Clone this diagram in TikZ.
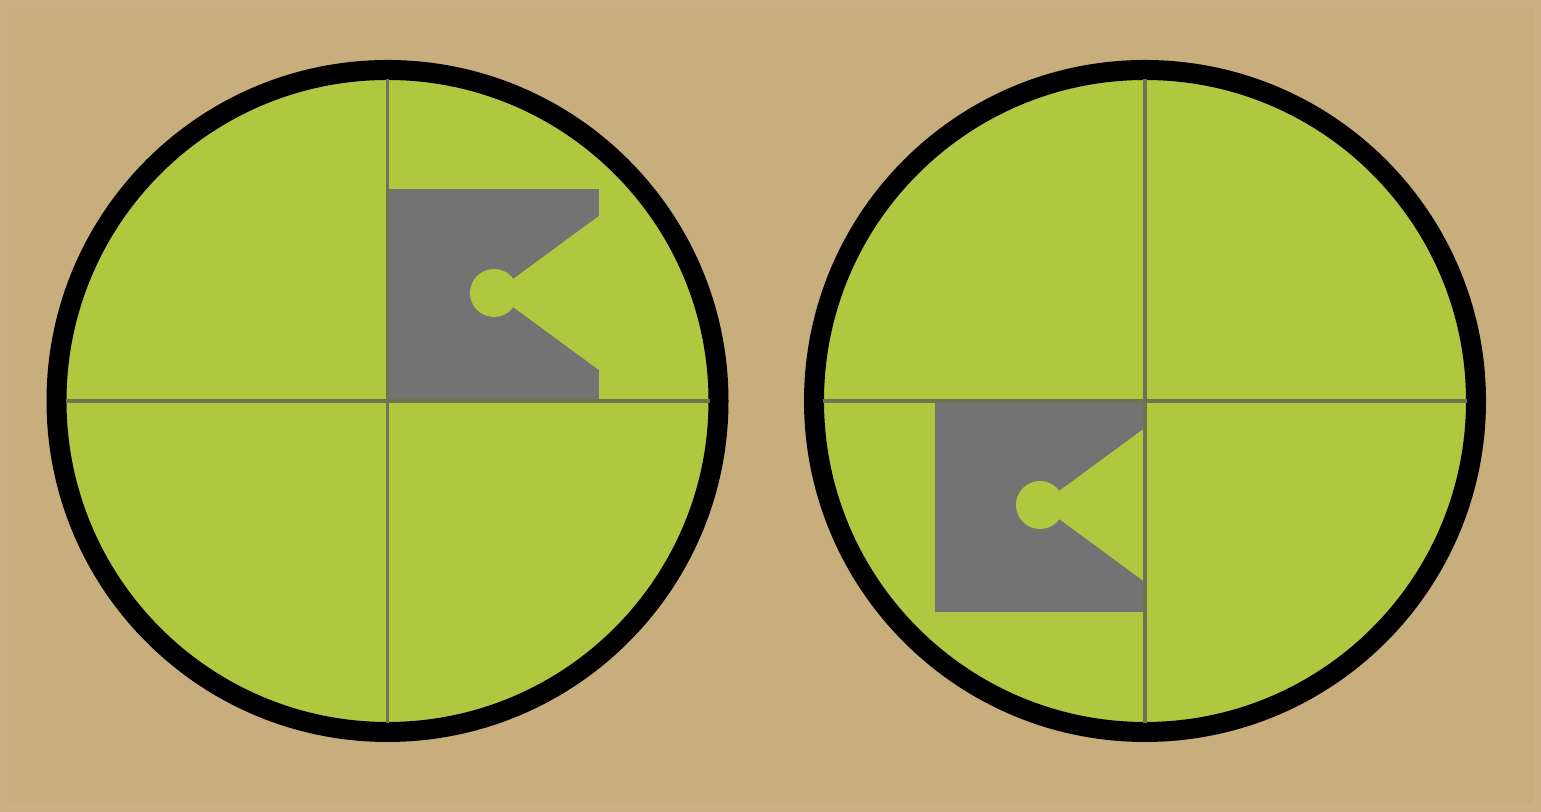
\documentclass[tikz,border=0pt]{standalone}
\usetikzlibrary{calc}
\definecolor{bgtan}{RGB}{200,173,125}
\definecolor{rimtan}{RGB}{204,178,131}
\definecolor{disc}{RGB}{176,200,64}
\definecolor{slab}{RGB}{115,115,115}
\definecolor{hair}{RGB}{112,114,80}

\begin{document}
\begin{tikzpicture}[x=1cm,y=1cm]
  \fill[bgtan] (0,0) rectangle (15.41,8.12);
  \draw[rimtan,line width=0.08cm] (0.04,0.04) rectangle (15.37,8.08);
  \useasboundingbox (0,0) rectangle (15.41,8.12);
  \coordinate (L) at (3.875,4.11);
  \coordinate (R) at (11.45,4.11);
  \coordinate (SL) at (3.89,4.12);
  \coordinate (SR) at (9.35,2.00);
  % lenses
  \foreach \c in {L,R}
    \filldraw[fill=disc,draw=black,line width=0.2cm] (\c) circle (3.31);
  % notched squares
  \foreach \s in {SL,SR}{
    \fill[slab] (\s) rectangle ++(2.1,2.11);
    \coordinate (H) at ($(\s)+(1.05,1.07)$);
    \fill[disc] (H) circle (0.24);
    \fill[disc] (H) -- ($(\s)+(2.14,1.07+0.80)$) -- ($(\s)+(2.14,1.07-0.80)$) -- cycle;
  }
  % cross hairs
  \foreach \c in {L,R}{
    \draw[hair,line width=1.1pt] ($(\c)+(0,-3.22)$) -- ($(\c)+(0,3.22)$);
    \draw[hair,line width=1.1pt] ($(\c)+(-3.22,0)$) -- ($(\c)+(3.22,0)$);
  }
\end{tikzpicture}
\end{document}
